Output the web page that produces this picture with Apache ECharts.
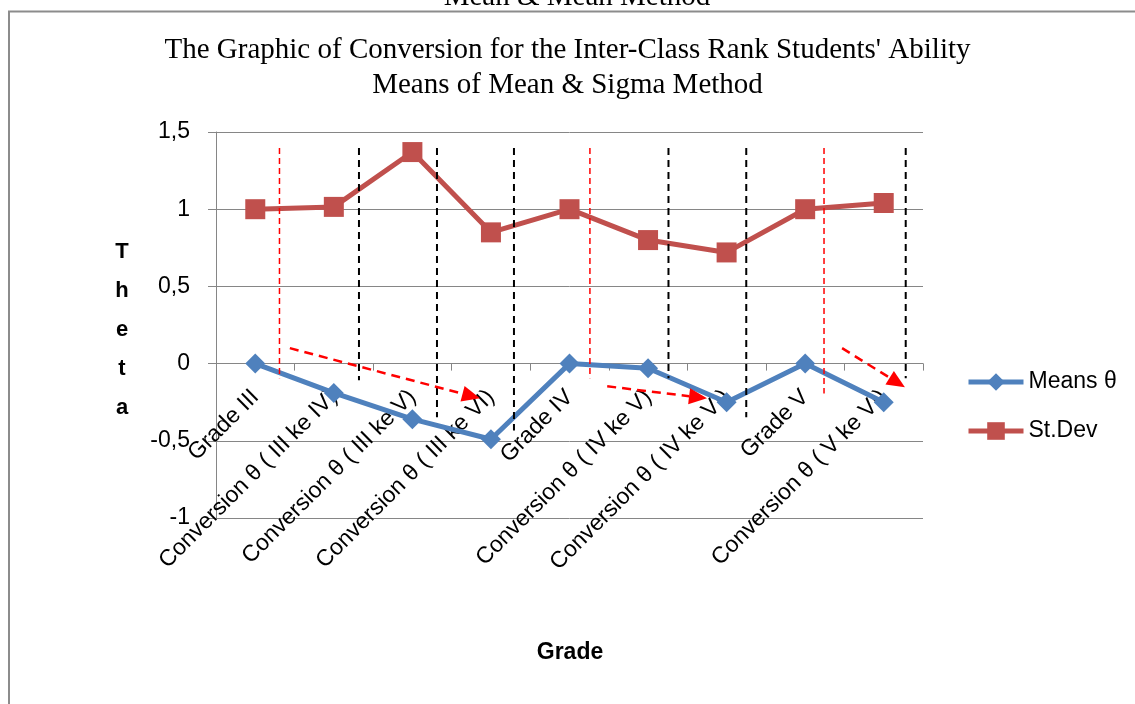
<!DOCTYPE html>
<html>
<head>
<meta charset="utf-8">
<script src="https://cdn.jsdelivr.net/npm/echarts@6/dist/echarts.min.js"></script>
<style>
  html, body { margin: 0; padding: 0; background: #ffffff; }
  #chart { width: 1135px; height: 704px; }
</style>
</head>
<body>
<div id="chart"></div>
<script>
// Categories along the grade axis
const categories = [
  'Grade III',
  'Conversion θ ( III ke IV)',
  'Conversion θ ( III ke V)',
  'Conversion θ ( III ke VI)',
  'Grade IV',
  'Conversion θ ( IV ke V)',
  'Conversion θ ( IV ke VI)',
  'Grade V',
  'Conversion θ ( V ke VI)'
];

// Mean ability (theta) per grade / conversion
const meansTheta = [0, -0.19, -0.36, -0.49, 0, -0.03, -0.25, 0, -0.25];

// Standard deviation per grade / conversion
const stDev = [1.0, 1.015, 1.37, 0.85, 1.0, 0.80, 0.72, 1.0, 1.04];

// Value-axis ticks
const yMin = -1;
const yMax = 1.5;
const yStep = 0.5;

// Guide lines in axis units: [category position, top theta, bottom theta]
const redGuides = [[0.308, 1.396, -0.095], [4.26, 1.396, -0.095], [7.24, 1.396, -0.193]];
const blackGuides = [[1.32, 1.396, -0.108], [2.313, 1.396, -0.348], [3.293, 1.396, -0.433],
                     [5.26, 1.396, -0.095], [6.25, 1.396, -0.348], [8.28, 1.396, -0.095]];
// Conversion arrows: [from position, from theta, to position, to theta]
const arrows = [[0.44, 0.10, 2.86, -0.225], [4.48, -0.147, 5.75, -0.225], [7.47, 0.10, 8.27, -0.153]];

const BLUE = '#4F81BD';
const RED = '#C0504D';
const GRID = '#868686';
const SANS = '"Liberation Sans", Arial, sans-serif';
const SERIF = '"Liberation Serif", "Times New Roman", serif';

// Plot area (px)
const G = { left: 216, right: 212, top: 132, bottom: 186 };
const plotHeight = 704 - G.top - G.bottom;
// Category labels sit on the zero line, so the label axis is lifted by the distance from min to 0
const zeroLift = plotHeight * (0 - yMin) / (yMax - yMin);

const chart = echarts.init(document.getElementById('chart'), null, { renderer: 'canvas' });

const fmt = v => String(v).replace('.', ',');

chart.setOption({
  animation: false,
  backgroundColor: '#ffffff',
  title: {
    text: 'The Graphic of Conversion for the Inter-Class Rank Students\' Ability\nMeans of Mean & Sigma Method',
    left: 'center',
    top: 28,
    textStyle: { fontFamily: SERIF, fontSize: 29, fontWeight: 'normal', color: '#000', lineHeight: 35, align: 'center' }
  },
  legend: {
    orient: 'vertical',
    left: 961,
    top: 365,
    itemWidth: 55,
    itemHeight: 22,
    itemGap: 25,
    lineStyle: { width: 5 },
    textStyle: { fontFamily: SANS, fontSize: 23, color: '#000', lineHeight: 24 },
    data: ['Means θ', 'St.Dev']
  },
  grid: { left: G.left, right: G.right, top: G.top, bottom: G.bottom, containLabel: false, outerBoundsMode: 'none' },
  xAxis: [
    {
      type: 'category',
      data: categories,
      boundaryGap: true,
      axisLine: { onZero: true, lineStyle: { color: GRID, width: 1 } },
      axisTick: { show: true, length: 7, interval: 0, lineStyle: { color: GRID } },
      axisLabel: { show: false },
      splitLine: { show: false }
    },
    {
      type: 'category',
      data: categories,
      position: 'bottom',
      offset: -zeroLift,
      boundaryGap: true,
      axisLine: { show: false, onZero: false },
      axisTick: { show: false },
      axisLabel: {
        interval: 0, rotate: 45, margin: 30,
        fontFamily: SANS, fontSize: 23, color: '#000'
      },
      splitLine: { show: false }
    }
  ],
  yAxis: {
    type: 'value',
    min: yMin, max: yMax, interval: yStep,
    axisLine: { show: true, lineStyle: { color: GRID, width: 1 } },
    axisTick: { show: true, length: 8, lineStyle: { color: GRID } },
    axisLabel: { margin: 26, fontFamily: SANS, fontSize: 23, color: '#000', formatter: fmt },
    splitLine: { show: true, lineStyle: { color: GRID, width: 1 } }
  },
  series: [
    {
      name: 'Means θ', type: 'line', data: meansTheta,
      symbol: 'diamond', symbolSize: 20,
      lineStyle: { color: BLUE, width: 5 },
      itemStyle: { color: BLUE },
      z: 3
    },
    {
      name: 'St.Dev', type: 'line', data: stDev,
      symbol: 'rect', symbolSize: 20,
      lineStyle: { color: RED, width: 5 },
      itemStyle: { color: RED },
      z: 3
    }
  ]
});

// Overlay: frame, clipped heading, axis names, guide lines and arrows
const x0 = chart.convertToPixel({ xAxisIndex: 0 }, 0);
const step = chart.convertToPixel({ xAxisIndex: 0 }, 1) - x0;
const px = p => x0 + p * step;
const py = v => chart.convertToPixel({ yAxisIndex: 0 }, v);

const graphics = [
  { type: 'rect', shape: { x: 9, y: 11.5, width: 1200, height: 800 },
    style: { fill: null, stroke: '#8c8c8c', lineWidth: 2 }, z: 0, silent: true },
  { type: 'text', x: 577, y: -3,
    style: { text: 'Mean & Mean Method', font: '29px ' + SERIF, fill: '#000', align: 'center', verticalAlign: 'middle' }, z: 10 },
  { type: 'text', x: 570, y: 653,
    style: { text: 'Grade', font: 'bold 23px ' + SANS, fill: '#000', align: 'center', verticalAlign: 'middle' }, z: 10 },
  { type: 'text', x: 122, y: 330,
    style: { text: 'T\nh\ne\nt\na', font: 'bold 22px ' + SANS, fill: '#000', align: 'center', verticalAlign: 'middle', lineHeight: 38.8 }, z: 10 }
];

redGuides.forEach(g => graphics.push({
  type: 'line', z: 5, silent: true,
  shape: { x1: px(g[0]), y1: py(g[1]), x2: px(g[0]), y2: py(g[2]) },
  style: { stroke: '#ff0000', lineWidth: 1.5, lineDash: [6, 4] }
}));
blackGuides.forEach(g => graphics.push({
  type: 'line', z: 5, silent: true,
  shape: { x1: px(g[0]), y1: py(g[1]), x2: px(g[0]), y2: py(g[2]) },
  style: { stroke: '#000000', lineWidth: 2, lineDash: [7, 5] }
}));
arrows.forEach(a => {
  const xa = px(a[0]), ya = py(a[1]), xb = px(a[2]), yb = py(a[3]);
  const dx = xb - xa, dy = yb - ya, len = Math.hypot(dx, dy);
  const ux = dx / len, uy = dy / len;
  const head = 18, half = 8;
  const bx = xb - ux * head, by = yb - uy * head;
  graphics.push({
    type: 'line', z: 6, silent: true,
    shape: { x1: xa, y1: ya, x2: bx, y2: by },
    style: { stroke: '#ff0000', lineWidth: 2.5, lineDash: [9, 6] }
  });
  graphics.push({
    type: 'polygon', z: 6, silent: true,
    shape: { points: [[xb, yb], [bx - uy * half, by + ux * half], [bx + uy * half, by - ux * half]] },
    style: { fill: '#ff0000' }
  });
});

chart.setOption({ graphic: graphics });
</script>
</body>
</html>
